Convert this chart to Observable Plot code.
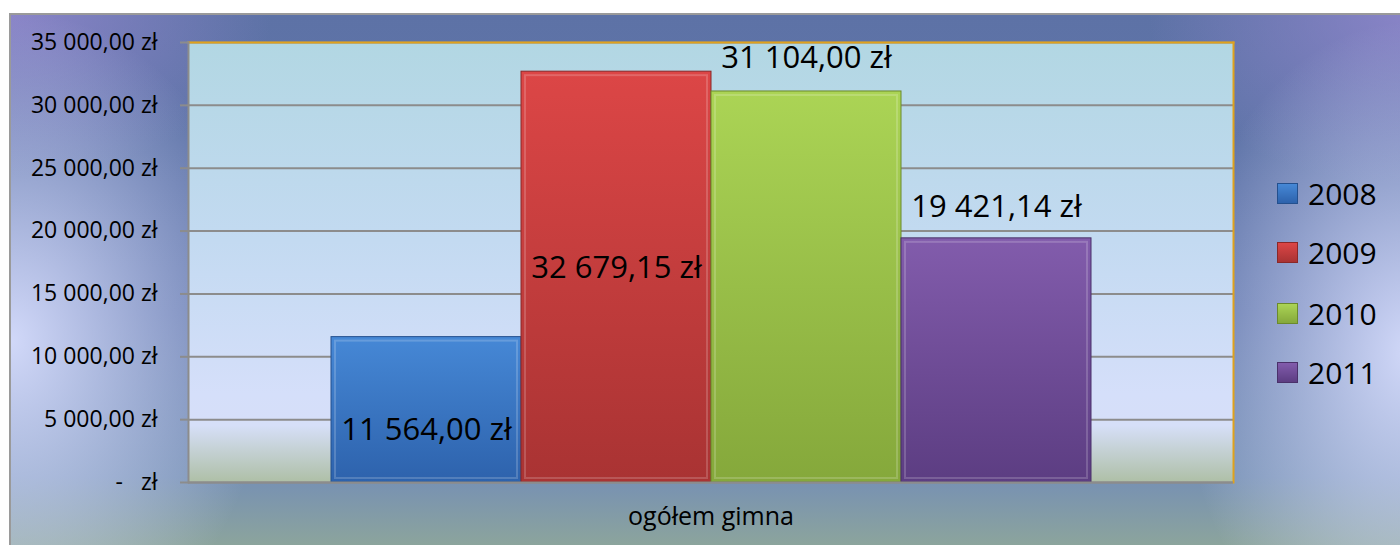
<!DOCTYPE html>
<html>
<head>
<meta charset="utf-8">
<script src="https://cdn.jsdelivr.net/npm/d3@7"></script>
<script src="https://cdn.jsdelivr.net/npm/@observablehq/plot@0.6"></script>
<style>
  html, body { margin: 0; padding: 0; background: #fff; }
  #wrap { position: relative; width: 1400px; height: 545px; overflow: hidden; font-family: "Open Sans", sans-serif; }
  #bg { position: absolute; left: 9px; top: 13px; width: 1400px; height: 545px; box-sizing: border-box;
        border-left: 2px solid #9a9a9a; border-top: 2px solid #9a9a9a;
        background:
          radial-gradient(ellipse 260px 330px at 0% 60%, rgba(218,224,255,0.92), rgba(218,224,255,0) 100%),
          radial-gradient(ellipse 230px 330px at 100% 62%, rgba(218,224,255,0.92), rgba(218,224,255,0) 100%),
          radial-gradient(ellipse 260px 160px at 0% 0%, rgba(145,135,205,0.85), rgba(145,135,205,0) 100%),
          radial-gradient(ellipse 260px 170px at 100% 0%, rgba(145,135,205,0.85), rgba(145,135,205,0) 100%),
          linear-gradient(to bottom, #5d72a6 0%, #6479ad 55%, #7690b4 85%, #90a898 100%);
  }
  #chart { position: absolute; left: 0; top: 0; }
  .leg { position: absolute; display: flex; align-items: center; font-size: 30px; color: #000; }
  .leg .sw { width: 21px; height: 21px; margin-right: 10px; box-sizing: border-box; }
</style>
</head>
<body>
<div id="wrap"><div id="bg"></div><div id="chart"></div></div>
<script>
const category = "ogółem gimna";
const years = ["2008", "2009", "2010", "2011"];
const values = [11564.00, 32679.15, 31104.00, 19421.14];
const yTicks = [0, 5000, 10000, 15000, 20000, 25000, 30000, 35000];

const topColors = ["#4688d6", "#dc4646", "#abd455", "#825cac"];
const bottomColors = ["#2d62ac", "#a93333", "#85a83b", "#5c3d82"];
const edgeColors = ["#24508e", "#8a2828", "#6b8a2c", "#4a316a"];

const data = years.map((year, i) => ({category, year, value: values[i]}));

const loc = d3.formatLocale({decimal: ",", thousands: "\u00a0", grouping: [3], currency: ["", "\u00a0zł"]});
const money = loc.format(",.2f");
const fmt = v => money(v) + "\u00a0zł";
const tickFmt = v => v === 0 ? "-\u00a0\u00a0\u00a0zł" : fmt(v);

const labelPlacement = {
  "2008": {y: () => 0, dy: -52},
  "2009": {y: d => d.value / 2, dy: -9},
  "2010": {y: d => d.value, dy: -33},
  "2011": {y: d => d.value, dy: -31}
};

const labelMarks = years.map(yr => Plot.text(data.filter(d => d.year === yr), {
  fx: "category", x: "year", y: labelPlacement[yr].y, dy: labelPlacement[yr].dy,
  text: d => fmt(d.value), fontSize: 31, fill: "#000"
}));

const plot = Plot.plot({
  width: 1400, height: 545,
  marginTop: 42, marginBottom: 63, marginLeft: 188, marginRight: 167,
  style: {background: "transparent", fontFamily: "'Open Sans', sans-serif", color: "#000", overflow: "visible"},
  fx: {padding: 0, label: null},
  x: {domain: years, paddingInner: 0, paddingOuter: 0.75, axis: null},
  y: {domain: [0, 35000], label: null},
  color: {domain: years, range: years.map(y => `url(#bar${y})`)},
  marks: [
    Plot.frame({fill: "url(#plotbg)", stroke: "none"}),
    Plot.gridY(yTicks, {stroke: "#8c8c8c", strokeOpacity: 1, strokeWidth: 2}),
    Plot.barY(data, {fx: "category", x: "year", y: "value", fill: "year",
      stroke: d => edgeColors[years.indexOf(d.year)], strokeWidth: 1}),
    Plot.barY(data, {fx: "category", x: "year", y: "value", fill: "none",
      stroke: "#fff", strokeOpacity: 0.18, strokeWidth: 2, inset: 4}),
    Plot.frame({anchor: "top", stroke: "#e0a21c", strokeWidth: 2}),
    Plot.frame({anchor: "right", stroke: "#e0a21c", strokeWidth: 2}),
    Plot.frame({anchor: "left", stroke: "#8c8c8c", strokeWidth: 2}),
    Plot.ruleY([0], {stroke: "#8c8c8c", strokeWidth: 2}),
    ...labelMarks,
    Plot.axisY({ticks: yTicks, tickFormat: tickFmt, tickSize: 8, tickPadding: 23, fontSize: 23,
      stroke: "#8c8c8c", strokeWidth: 2, label: null}),
    Plot.axisFx({anchor: "bottom", tickSize: 0, tickPadding: 25, fontSize: 25, label: null})
  ]
});

const svg = d3.select(plot);
const defs = svg.insert("defs", ":first-child");
const pg = defs.append("linearGradient").attr("id", "plotbg").attr("x1", 0).attr("y1", 0).attr("x2", 0).attr("y2", 1);
[[0, "#b2d7e3"], [0.45, "#c3daf1"], [0.8, "#d5dffa"], [0.87, "#d6dff8"], [1, "#aebfa6"]]
  .forEach(([o, c]) => pg.append("stop").attr("offset", o).attr("stop-color", c));
years.forEach((y, i) => {
  const g = defs.append("linearGradient").attr("id", `bar${y}`).attr("x1", 0).attr("y1", 0).attr("x2", 0).attr("y2", 1);
  g.append("stop").attr("offset", 0).attr("stop-color", topColors[i]);
  g.append("stop").attr("offset", 1).attr("stop-color", bottomColors[i]);
});

document.getElementById("chart").appendChild(plot);

const legendTop = [193, 252, 313, 372];
const wrap = document.getElementById("wrap");
years.forEach((y, i) => {
  const el = document.createElement("div");
  el.className = "leg";
  el.style.left = "1277px";
  el.style.top = (legendTop[i] - 21) + "px";
  el.style.height = "42px";
  el.innerHTML = `<div class="sw" style="background:linear-gradient(to bottom, ${topColors[i]}, ${bottomColors[i]});border:1px solid ${edgeColors[i]}"></div><span>${y}</span>`;
  wrap.appendChild(el);
});
</script>
</body>
</html>
